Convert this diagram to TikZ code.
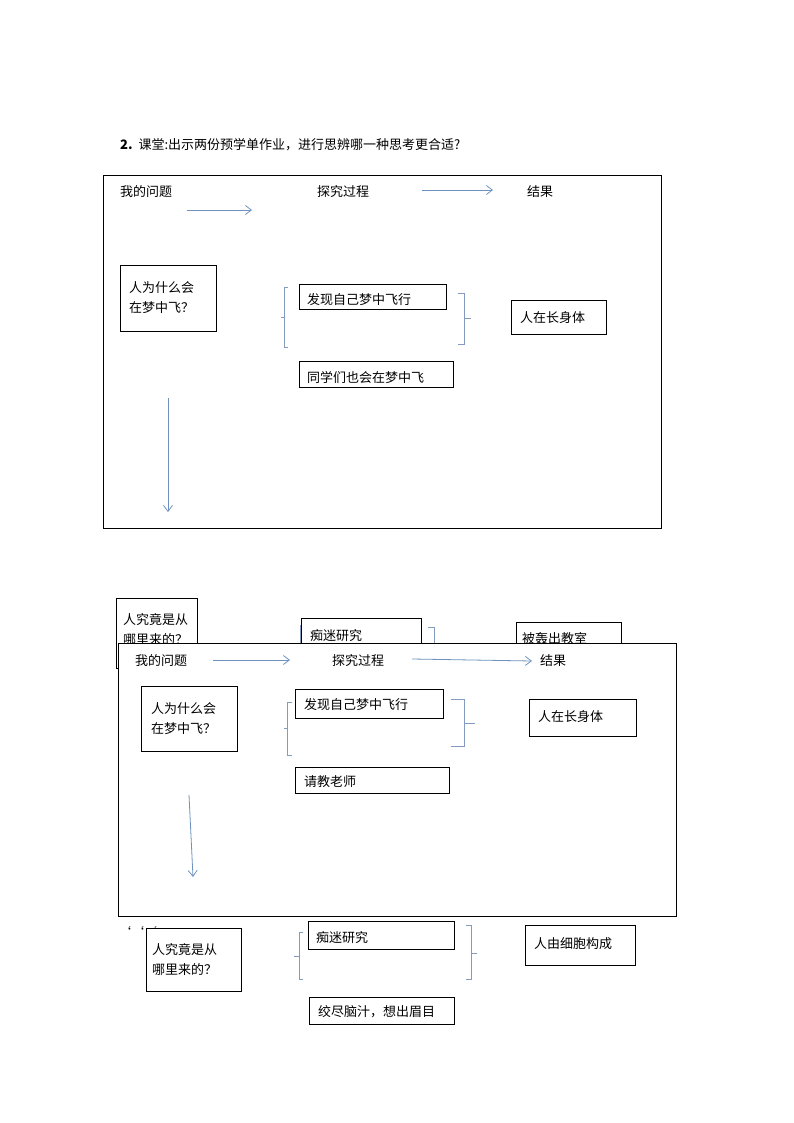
\documentclass[tikz,border=0pt]{standalone}
\usepackage{fontspec}
\usetikzlibrary{arrows.meta}
\setmainfont{Noto Sans CJK SC}
\begin{document}
\begin{tikzpicture}[x=1pt,y=-1pt,
  bx/.style={draw=black,line width=0.8pt,fill=white},
  tx/.style={font=\fontsize{13}{15}\selectfont,inner sep=0pt},
  arr/.style={draw={rgb,255:red,110;green,145;blue,190},line width=0.8pt,-{Straight Barb[length=6pt,width=9pt,line width=0.8pt]}},
  brk/.style={draw={rgb,255:red,130;green,155;blue,190},line width=0.7pt}]
\useasboundingbox (0,0) rectangle (794,1123);
\node[tx,anchor=west] (title) at (120,145) {\textbf{2.}\ \ 课堂:出示两份预学单作业，进行思辨哪一种思考更合适?};
% ---- first frame
\draw[bx,fill=none] (103,175) rectangle (661,528);
\node[tx,anchor=west] (q1) at (120,192) {我的问题};
\node[tx] (p1) at (343,192) {探究过程};
\node[tx] (r1) at (540,192) {结果};
\coordinate (a1s) at (187,210); \coordinate (a1e) at (252,210);
\draw[arr] (a1s) -- (a1e);
\coordinate (a2s) at (422,190); \coordinate (a2e) at (493,190);
\draw[arr] (a2s) -- (a2e);
\draw[bx] (120,265) rectangle (216,331);
\node[tx,anchor=west,align=left] (qb1) at (129,298) {人为什么会\\[5pt]在梦中飞？};
\draw[brk] (288,287) -- (284,287) -- (284,347) -- (288,347) (284,317) -- (281,317);
\draw[bx] (299,284) rectangle (446,309);
\node[tx,anchor=west] (f1) at (307,300) {发现自己梦中飞行};
\draw[brk] (458,293) -- (464,293) -- (464,344) -- (458,344) (464,318) -- (471,318);
\draw[bx] (511,300) rectangle (606,334);
\node[tx,anchor=west] (res1) at (520,318) {人在长身体};
\draw[bx] (299,361) rectangle (453,387);
\node[tx,anchor=west] (t1) at (307,378) {同学们也会在梦中飞};
\coordinate (v1s) at (168,398); \coordinate (v1e) at (168,512);
\draw[arr] (v1s) -- (v1e);
% ---- hidden layer
\draw[bx] (116,598) rectangle (197,668);
\node[tx,anchor=west,align=left] (hq) at (123,630) {人究竟是从\\[5pt]哪里来的？};
\draw[brk] (304,625) -- (300,625) -- (300,660);
\draw[bx] (301,618) rectangle (421,660);
\node[tx,anchor=west] (hp) at (310,636) {痴迷研究};
\draw[brk] (428,627) -- (434,627) -- (434,660);
\draw[bx] (516,622) rectangle (621,660);
\node[tx,anchor=west] (hr) at (522,639) {被轰出教室};
% ---- second frame
\draw[bx] (118,643) rectangle (676,916);
\node[tx,anchor=west] (q2) at (135,661) {我的问题};
\node[tx] (p2) at (358,661) {探究过程};
\node[tx,anchor=west] (r2) at (540,661) {结果};
\coordinate (b1s) at (213,660); \coordinate (b1e) at (290,660);
\draw[arr] (b1s) -- (b1e);
\coordinate (b2s) at (412,659); \coordinate (b2e) at (532,661);
\draw[arr] (b2s) -- (b2e);
\draw[bx] (141,686) rectangle (237,751);
\node[tx,anchor=west,align=left] (qb2) at (151,719) {人为什么会\\[5pt]在梦中飞？};
\draw[brk] (292,702) -- (287,702) -- (287,755) -- (292,755) (287,728) -- (284,728);
\draw[bx] (295,689) rectangle (443,718);
\node[tx,anchor=west] (f2) at (304,705) {发现自己梦中飞行};
\draw[brk] (451,699) -- (464,699) -- (464,746) -- (451,746) (464,723) -- (475,723);
\draw[bx] (529,699) rectangle (636,736);
\node[tx,anchor=west] (res2) at (538,717) {人在长身体};
\draw[bx] (295,767) rectangle (449,793);
\node[tx,anchor=west] (t2) at (304,782) {请教老师};
\coordinate (v2s) at (189,795); \coordinate (v2e) at (193,877);
\draw[arr] (v2s) -- (v2e);
% ---- below
\node[tx,anchor=west] (ticks) at (118,932) {\symbol{96}\symbol{96}\symbol{96}};
\draw[bx] (146,928) rectangle (241,991);
\node[tx,anchor=west,align=left] (hq2) at (152,960) {人究竟是从\\[5pt]哪里来的？};
\draw[brk] (303,932) -- (299,932) -- (299,979) -- (303,979) (299,956) -- (294,956);
\draw[bx] (308,921) rectangle (454,949);
\node[tx,anchor=west] (hp2) at (316,938) {痴迷研究};
\draw[brk] (466,925) -- (471,925) -- (471,979) -- (466,979) (471,953) -- (477,953);
\draw[bx] (525,925) rectangle (635,965);
\node[tx,anchor=west] (hr2) at (534,944) {人由细胞构成};
\draw[bx] (309,997) rectangle (454,1024);
\node[tx,anchor=west] (z) at (318,1012) {绞尽脑汁，想出眉目};
\end{tikzpicture}
\end{document}
